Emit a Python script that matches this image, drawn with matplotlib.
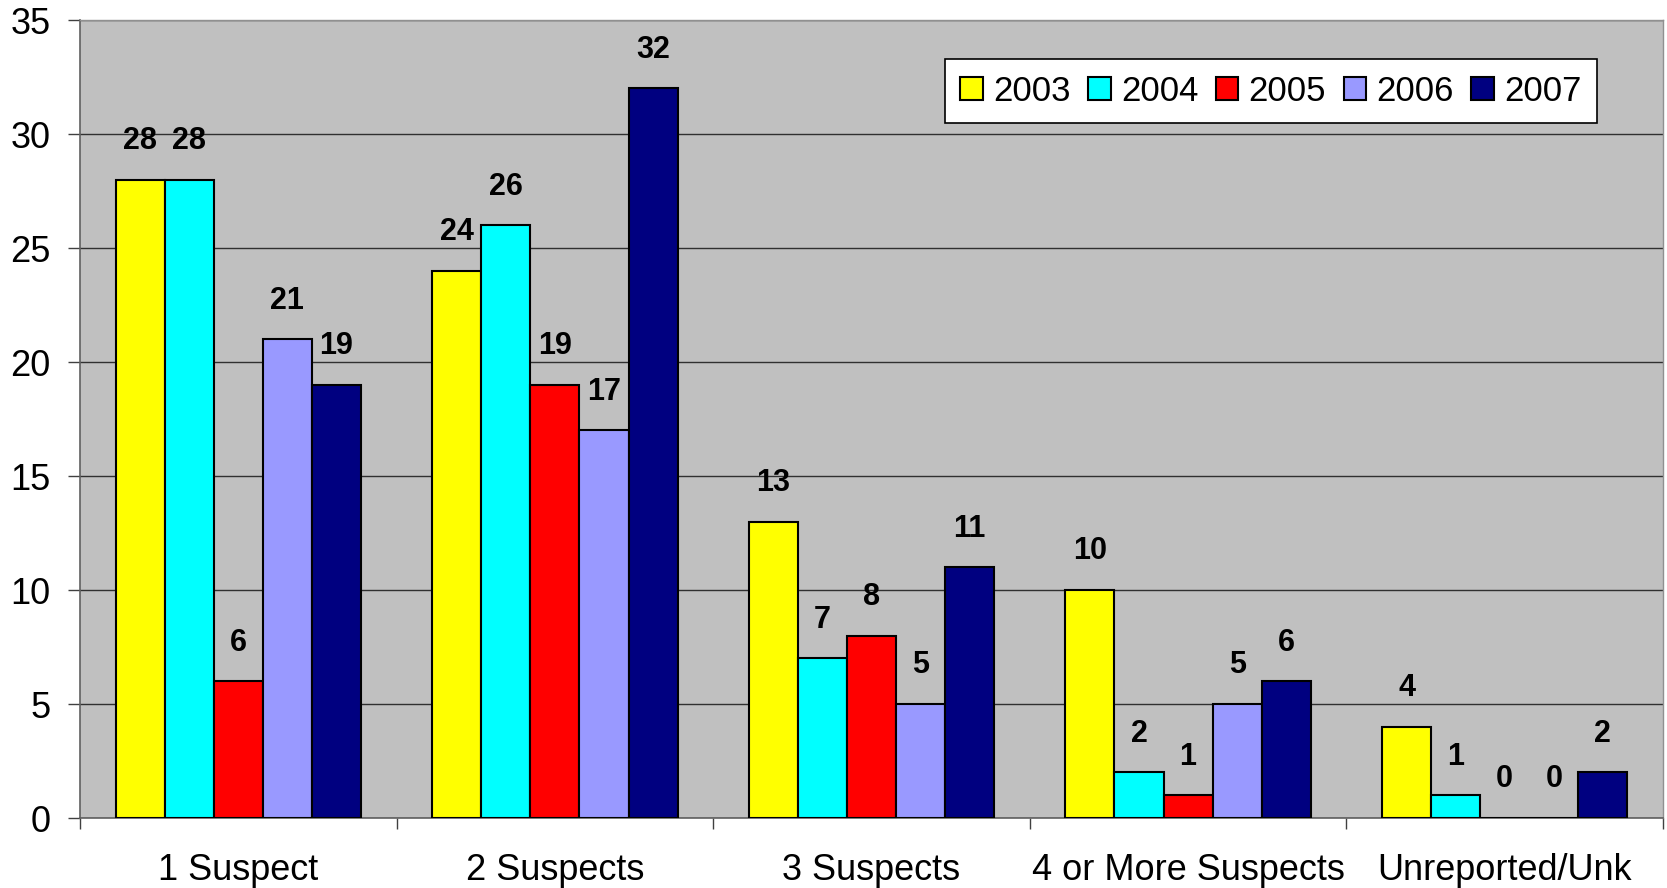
import matplotlib
matplotlib.use("Agg")
import matplotlib.pyplot as plt
import numpy as np

categories = ["1 Suspect", "2 Suspects", "3 Suspects", "4 or More Suspects", "Unreported/Unk"]
years = ["2003", "2004", "2005", "2006", "2007"]
v2003 = [28, 24, 13, 10, 4]
v2004 = [28, 26, 7, 2, 1]
v2005 = [6, 19, 8, 1, 0]
v2006 = [21, 17, 5, 5, 0]
v2007 = [19, 32, 11, 6, 2]
series = [v2003, v2004, v2005, v2006, v2007]
colors = ["#FFFF00", "#00FFFF", "#FF0000", "#9999FF", "#000080"]

plt.rcParams['font.family'] = ['Liberation Sans', 'DejaVu Sans']

fig = plt.figure(figsize=(16.67, 8.88), dpi=100)
ax = fig.add_axes([80/1667, 70/888, 1583/1667, 798/888])
ax.set_facecolor("#C0C0C0")

x = np.arange(len(categories))
w = 0.155
for i, (vals, c, yr) in enumerate(zip(series, colors, years)):
    pos = x + (i - 2) * w
    ax.bar(pos, vals, width=w, color=c, edgecolor="black", linewidth=1.5, label=yr, zorder=3)
    for p, v in zip(pos, vals):
        ax.annotate(str(v), (p, v), xytext=(0, 17), textcoords="offset points",
                    ha="center", va="bottom", fontsize=22, fontweight="bold", zorder=4)

ax.set_xlim(-0.5, len(categories) - 0.5)
ax.set_ylim(0, 35)
ax.set_yticks(np.arange(0, 36, 5))
ax.yaxis.grid(True, color="#303030", linewidth=1.0, zorder=1)
ax.set_axisbelow(True)

ax.set_xticks(x)
ax.set_xticklabels(categories, fontsize=26)
ax.set_xticks(np.arange(-0.5, len(categories)), minor=True)
ax.tick_params(axis="x", which="major", length=0, pad=25)
ax.tick_params(axis="x", which="minor", length=8, width=1, color="#404040")
ax.tick_params(axis="y", labelsize=26, length=9, width=1, color="#404040", pad=12)

for s in ["left", "bottom"]:
    ax.spines[s].set_color("#606060")
    ax.spines[s].set_linewidth(1.2)
for s in ["top", "right"]:
    ax.spines[s].set_color("#909090")
    ax.spines[s].set_linewidth(1.0)

leg = ax.legend(loc="upper right", bbox_to_anchor=(0.9585, 0.951), ncol=5, fontsize=25,
                frameon=True, fancybox=False, edgecolor="black", framealpha=1,
                handlelength=0.65, handleheight=0.65, handletextpad=0.3, columnspacing=0.5,
                borderpad=0.45, borderaxespad=0)
leg.get_frame().set_linewidth(1.2)

fig.savefig("out.png", dpi=100)
